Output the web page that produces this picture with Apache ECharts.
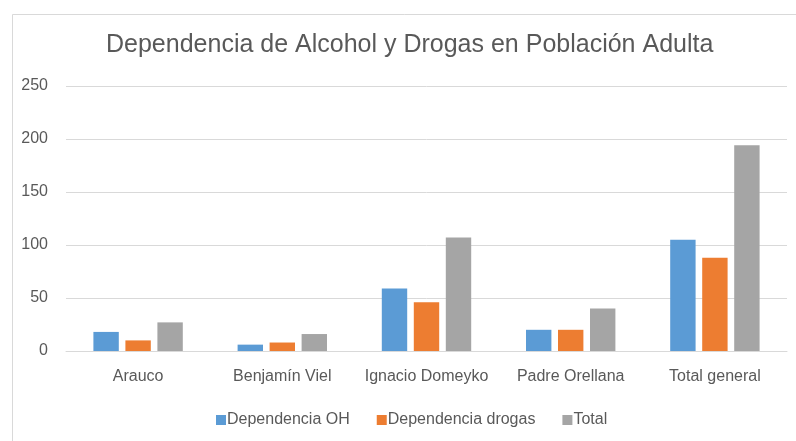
<!DOCTYPE html>
<html>
<head>
<meta charset="utf-8">
<script src="https://cdn.jsdelivr.net/npm/echarts@6/dist/echarts.min.js"></script>
<style>
html,body{margin:0;padding:0;background:#fff;}
#chart{width:796px;height:441px;}
</style>
</head>
<body>
<div id="chart"></div>
<script>
var categories = ['Arauco', 'Benjamín Viel', 'Ignacio Domeyko', 'Padre Orellana', 'Total general'];
var seriesNames = ['Dependencia OH', 'Dependencia drogas', 'Total'];
var dependenciaOH = [18, 6, 59, 20, 105];
var dependenciaDrogas = [10, 8, 46, 20, 88];
var total = [27, 16, 107, 40, 194];
var yTicks = [0, 50, 100, 150, 200, 250];

var colors = ['#5B9BD5', '#ED7D31', '#A5A5A5'];
var font = 'Liberation Sans';
var chart = echarts.init(document.getElementById('chart'), null, {renderer: 'canvas'});
var seriesData = [dependenciaOH, dependenciaDrogas, total];
chart.setOption({
  animation: false,
  backgroundColor: '#fff',
  color: colors,
  graphic: [{
    type: 'rect', left: 10, top: 12,
    shape: {width: 800, height: 440},
    style: {fill: 'none', stroke: '#d9d9d9', lineWidth: 1}
  }],
  title: {
    text: 'Dependencia de Alcohol y Drogas en Población Adulta',
    left: 101, top: 28,
    textStyle: {fontFamily: font, fontSize: 25, fontWeight: 'normal', color: '#595959'}
  },
  legend: {
    top: 407, left: 211,
    itemWidth: 10, itemHeight: 10, itemGap: 27,
    icon: 'rect',
    textStyle: {fontFamily: font, fontSize: 16, color: '#595959', padding: [0,0,0,-4]},
    data: seriesNames
  },
  grid: {left: 66, right: 9, top: 86, bottom: 90, containLabel: false},
  xAxis: {
    type: 'category', data: categories,
    axisLine: {lineStyle: {color: '#d9d9d9'}},
    axisTick: {show: false},
    axisLabel: {interval: 0, fontFamily: font, fontSize: 16, color: '#595959', margin: 18}
  },
  yAxis: {
    type: 'value', min: yTicks[0], max: yTicks[yTicks.length-1], interval: 50,
    axisLine: {show: false}, axisTick: {show: false},
    splitLine: {lineStyle: {color: '#d9d9d9'}},
    axisLabel: {fontFamily: font, fontSize: 16, color: '#595959', margin: 18}
  },
  series: seriesNames.map(function(n, i){
    return {name: n, type: 'bar', data: seriesData[i], barGap: '26%', barCategoryGap: '38%'};
  })
});
</script>
</body>
</html>
